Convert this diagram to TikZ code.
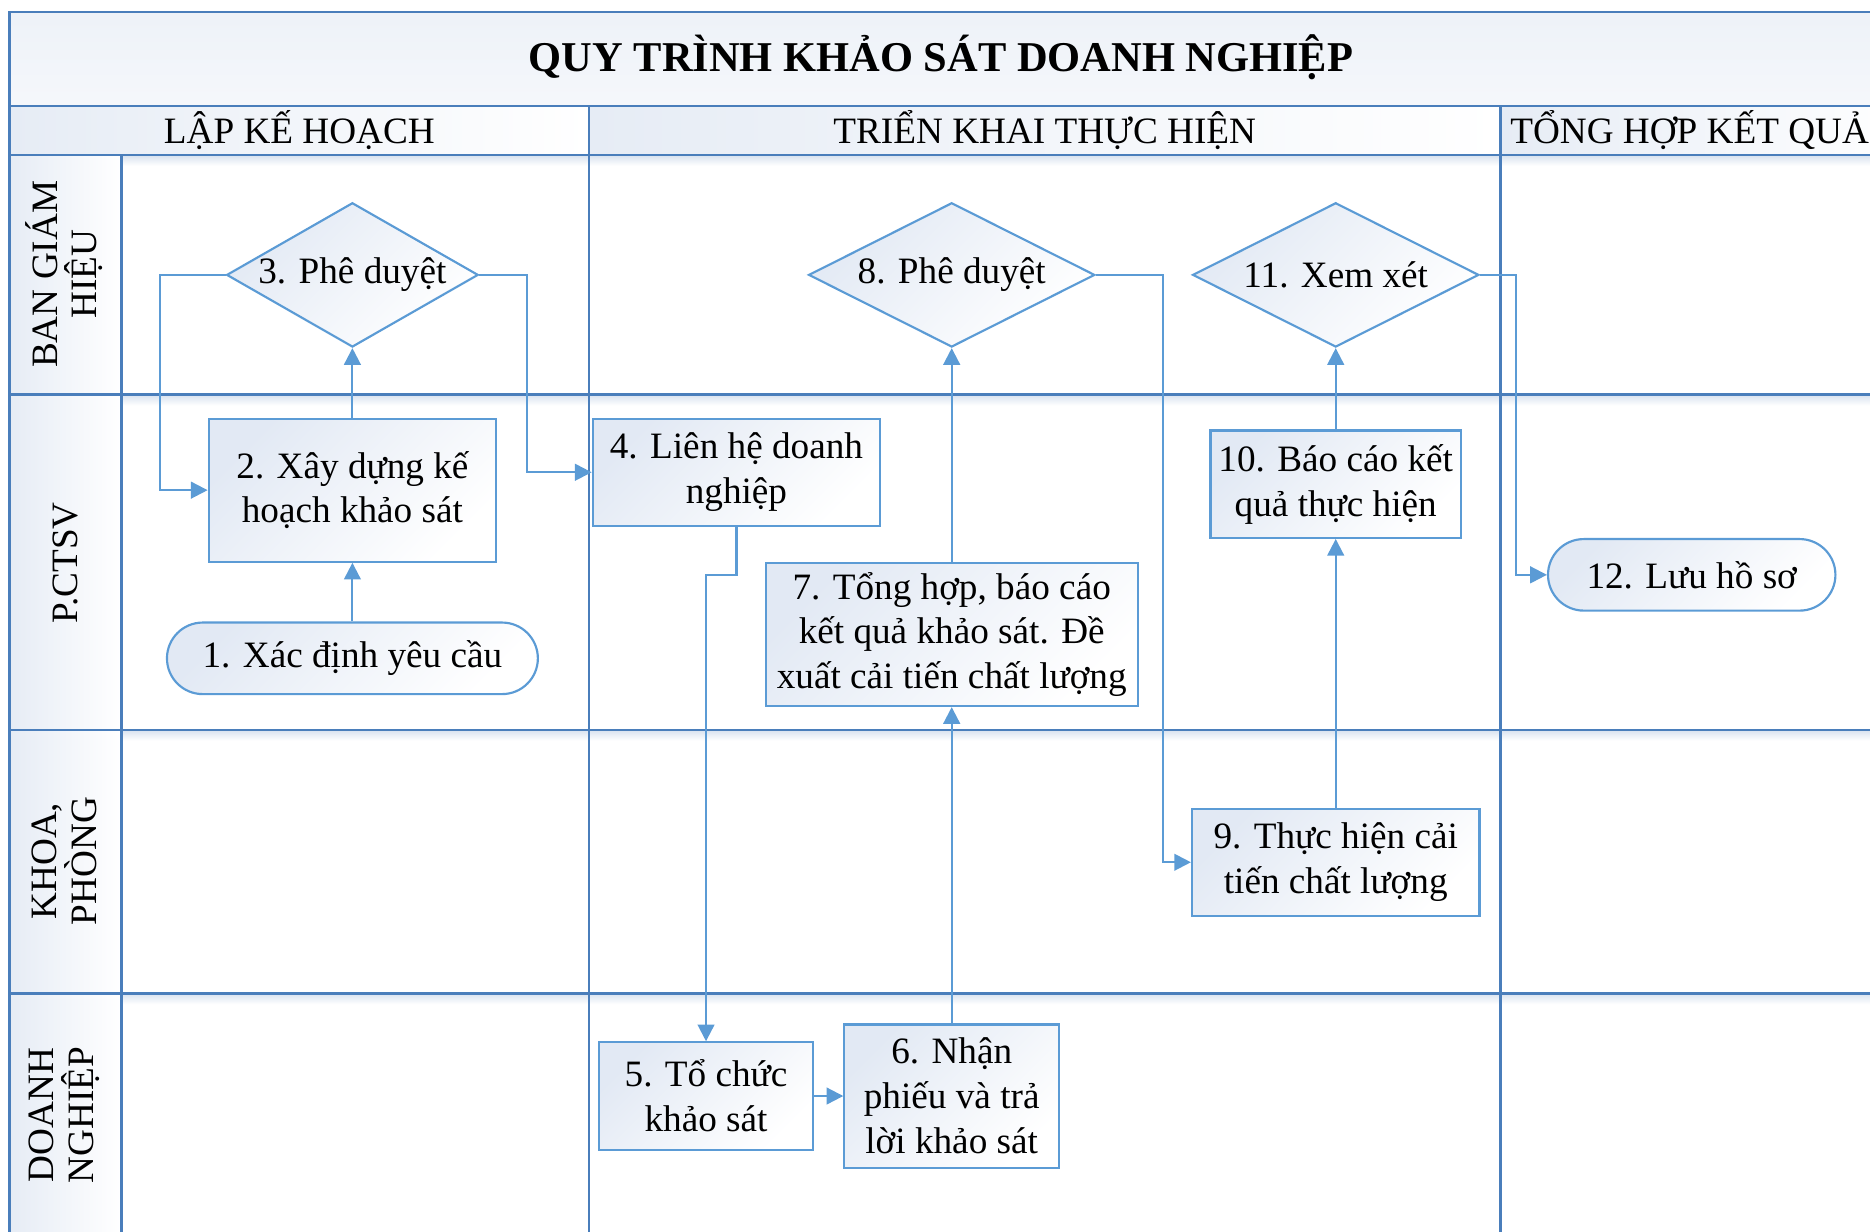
\documentclass[tikz,border=0pt]{standalone}
\usepackage{fontspec}
\setmainfont{Liberation Serif}
\usetikzlibrary{shapes.geometric,arrows.meta}
\definecolor{laneline}{HTML}{4A7EBB}
\definecolor{conn}{HTML}{5B9BD5}
\definecolor{nodeline}{HTML}{5B9BD5}
\definecolor{nodefill}{HTML}{E2E9F4}
\definecolor{cellfill}{HTML}{E6ECF5}
\definecolor{shadowc}{HTML}{D8E2EF}
\begin{document}
\begin{tikzpicture}[x=0.5pt,y=-0.5pt,
  lane/.style={draw=laneline, line width=1.1pt},
  txt/.style={font=\fontsize{15.6}{18.8}\selectfont, align=center, inner sep=0pt},
  box/.style={draw=nodeline, line width=0.9pt, top color=nodefill, bottom color=white, shading angle=45, inner sep=0pt, txt},
  stad/.style={box, rounded corners=15pt},
  dia/.style={draw=nodeline, line width=0.9pt, shape=diamond, top color=nodefill, bottom color=white, shading angle=45, inner sep=0pt},
  arr/.style={draw=conn, line width=0.9pt, -{Triangle[length=7pt,width=7pt]}},
  lanelab/.style={font=\fontsize{15.6}{16.5}\selectfont, align=center, rotate=90, inner sep=0pt}
]
\useasboundingbox (0,0) rectangle (1568,1033);
\begin{scope}
\clip (0,0) rectangle (1568,1033);
% fills
\fill[top color=cellfill!70, bottom color=cellfill!40] (8,10) rectangle (1600,89);
\fill[left color=cellfill, right color=white] (8,89) rectangle (494,130);
\fill[left color=cellfill, right color=white] (494,89) rectangle (1258,130);
\fill[left color=cellfill, right color=white] (1258,89) rectangle (1600,130);
\foreach \a/\b in {130/331,331/612,612/833,833/1100}{
  \fill[left color=cellfill, right color=white] (8,\a) rectangle (102,\b);
  \fill[top color=shadowc, bottom color=white] (102,\a) rectangle (1600,\a+9);
}
% lines
\draw[lane] (1600,10) -- (8,10) -- (8,1100);
\foreach \yy in {89,130,331,612,833}{ \draw[lane] (8,\yy) -- (1600,\yy); }
\draw[lane] (102,130) -- (102,1100);
\draw[lane] (494,89) -- (494,1100);
\draw[lane] (1258,89) -- (1258,1100);
\end{scope}

% headers
\node[font=\fontsize{17.8}{20}\selectfont\bfseries, inner sep=0pt] (title) at (789,48) {QUY TRÌNH KHẢO SÁT DOANH NGHIỆP};
\node[txt] (h1) at (251,109) {LẬP KẾ HOẠCH};
\node[txt] (h2) at (876,109) {TRIỂN KHAI THỰC HIỆN};
\node[txt, anchor=west] (h3) at (1266,109) {TỔNG HỢP KẾT QUẢ};

% lane labels
\node[lanelab] (l1) at (54,230) {BAN GIÁM\\HIỆU};
\node[lanelab] (l2) at (55,472) {P.CTSV};
\node[lanelab] (l3) at (54,722) {KHOA,\\PHÒNG};
\node[lanelab] (l4) at (54,935) {DOANH\\NGHIỆP};

% nodes
\node[stad, minimum width=155.5pt, minimum height=30pt] (n1) at (295.5,552) {1. Xác định yêu cầu};
\node[box, minimum width=120.5pt, minimum height=60pt] (n2) at (295.5,411) {2. Xây dựng kế\\hoạch khảo sát};
\node[dia, minimum width=105.5pt, minimum height=60.5pt] (n3) at (295.5,230.5) {};
\node[txt] (n3t) at (n3) {3. Phê duyệt};
\node[box, minimum width=120.5pt, minimum height=45pt] (n4) at (617.5,396) {4. Liên hệ doanh\\nghiệp};
\node[box, minimum width=90pt, minimum height=45pt] (n5) at (592,919) {5. Tổ chức\\khảo sát};
\node[box, minimum width=90pt, minimum height=60pt] (n6) at (798,919) {6. Nhận\\phiếu và trả\\lời khảo sát};
\node[box, minimum width=156pt, minimum height=60pt] (n7) at (798,532) {7. Tổng hợp, báo cáo\\kết quả khảo sát. Đề\\xuất cải tiến chất lượng};
\node[dia, minimum width=120pt, minimum height=60.5pt] (n8) at (798,230.5) {};
\node[txt] (n8t) at (n8) {8. Phê duyệt};
\node[box, minimum width=120.5pt, minimum height=45pt] (n9) at (1120,723) {9. Thực hiện cải\\tiến chất lượng};
\node[box, minimum width=105pt, minimum height=45pt] (n10) at (1120,406) {10. Báo cáo kết\\quả thực hiện};
\node[dia, minimum width=120pt, minimum height=60.5pt] (n11) at (1120,230.5) {};
\node[txt] (n11t) at (n11) {11. Xem xét};
\node[stad, minimum width=120.5pt, minimum height=30pt] (n12) at (1418.5,482) {12. Lưu hồ sơ};

% connectors
\draw[arr] (n1.north) -- (n2.south);
\draw[arr] (n2.north) -- (n3.south);
\draw[arr] (n3.west) -- ++(-55,0) |- (n2.west);
\draw[arr] (n3.east) -- ++(40,0) |- (n4.west);
\draw[arr] (n4.south) -- ++(0,40) -| (n5.north);
\draw[arr] (n5.east) -- (n6.west);
\draw[arr] (n6.north) -- (n7.south);
\draw[arr] (n7.north) -- (n8.south);
\draw[arr] (n8.east) -- ++(56,0) |- (n9.west);
\draw[arr] (n9.north) -- (n10.south);
\draw[arr] (n10.north) -- (n11.south);
\draw[arr] (n11.east) -- ++(30,0) |- (n12.west);
\end{tikzpicture}
\end{document}
